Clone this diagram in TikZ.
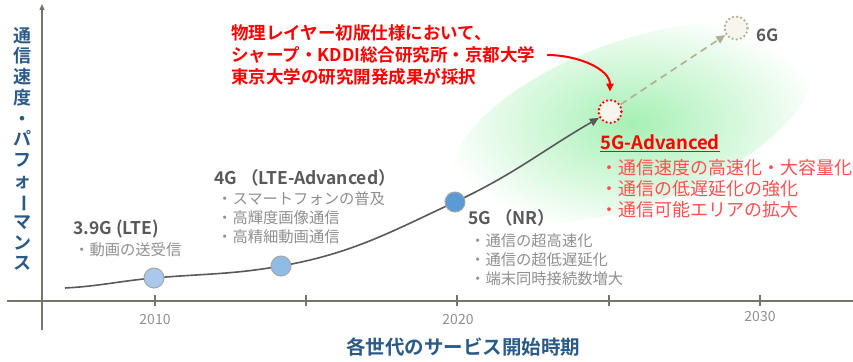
\documentclass[tikz,border=0pt]{standalone}
\usepackage{fontspec}
\setmainfont{Noto Sans CJK JP}[BoldFont={Noto Sans CJK JP Bold}]
\usetikzlibrary{arrows.meta,backgrounds}

\definecolor{axisgray}{HTML}{75756B}
\definecolor{headgray}{HTML}{595959}
\definecolor{bulletgray}{HTML}{8F8F8F}
\definecolor{titlered}{HTML}{FF0000}
\definecolor{softred}{HTML}{FF4F4F}
\definecolor{labelblue}{HTML}{2C5A86}
\definecolor{glow}{HTML}{A6F0B4}
\definecolor{lte}{HTML}{A9C8EC}
\definecolor{ltea}{HTML}{8FBCE4}
\definecolor{nr}{HTML}{5B9BD5}
\definecolor{paper}{HTML}{F8F6EC}
\definecolor{tan}{HTML}{B3AD94}

\tikzset{
  axis/.style={draw=axisgray,line width=1.3pt},
  year/.style={text=bulletgray,font=\fontsize{14}{16}\selectfont},
  gen/.style={circle,draw=gray!70,line width=1pt,minimum size=20pt,inner sep=0pt},
  future/.style={circle,fill=paper,line width=2.6pt,minimum size=23pt,inner sep=0pt,
    dash pattern=on 0pt off 4.2pt,line cap=round},
  head/.style={anchor=west,inner sep=0pt,text=headgray,font=\bfseries\fontsize{17.5}{20}\selectfont},
  bullets/.style={anchor=west,inner sep=0pt,align=left,text=bulletgray,font=\fontsize{15.3}{19}\selectfont},
  trend/.style={draw=headgray,line width=1.6pt,-{Triangle[length=9pt,width=8pt]}},
}

\begin{document}
\begin{tikzpicture}[x=1pt,y=1pt]
\useasboundingbox (0,0) rectangle (853,361);

% axes
\coordinate (ybot) at (42,31);
\coordinate (ytop) at (42,357);
\coordinate (xl) at (7,60);
\coordinate (xr) at (853,60);
\draw[axis,-{Triangle[length=6pt,width=5pt]}] (ybot) -- (ytop);
\draw[axis] (xl) -- (xr);
\foreach \x in {155,306,457,609,760}
  \draw[axis] (\x,55) -- (\x,66);

\node[year] (y2010) at (155,41) {2010};
\node[year] (y2020) at (458,41) {2020};
\node[year] (y2030) at (760,44) {2030};

\node[text=labelblue,font=\bfseries\fontsize{19.5}{22}\selectfont] (xlab) at (463,14) {各世代のサービス開始時期};
\node[text=labelblue,align=center,inner sep=0pt,font=\bfseries\fontsize{18}{20.7}\selectfont] (ylab) at (22,212)
  {通\\信\\速\\度\\・\\パ\\フ\\ォ\\\rotatebox[origin=c]{-90}{ー}\\マ\\ン\\ス};

% generations
\coordinate (start) at (65,73);
\node[gen,fill=lte] (c39) at (154,83) {};
\node[gen,fill=ltea] (c4) at (281,95) {};
\node[gen,fill=nr] (c5) at (455,159) {};
\node[future,draw=titlered] (adv) at (610,249.5) {};
\node[future,draw=tan] (six) at (736,333) {};

\begin{scope}[on background layer]
  % green glow round 5G-Advanced
  \shade[inner color=glow,outer color=white,rotate around={20:(632,238)}]
    (632,238) ellipse [x radius=190,y radius=82];
  \draw[trend] (start) to[out=3,in=185] (c39.center) to[out=5,in=190] (c4.center)
    to[out=10,in=205] (c5.center) to[out=25,in=210] (adv);
\end{scope}
\draw[draw=tan,line width=1.6pt,dashed,dash pattern=on 7pt off 5pt,
  -{Triangle[length=9pt,width=8pt]}] (adv) -- (six);

% labels
\node[head] (h39) at (73,132) {3.9G (LTE)};
\node[bullets] (b39) at (74,111) {・動画の送受信};
\node[head] (h4) at (214,183) {4G （LTE-Advanced）};
\node[bullets] (b4) at (217,143) {・スマートフォンの普及\\・高輝度画像通信\\・高精細動画通信};
\node[head] (h5) at (468,143) {5G （NR）};
\node[bullets] (b5) at (470,101) {・通信の超高速化\\・通信の超低遅延化\\・端末同時接続数増大};
\node[head,text=titlered,font=\bfseries\fontsize{18.5}{20}\selectfont] (hadv) at (600,218)
  {\underline{5G-Advanced}};
\node[bullets,text=softred,font=\fontsize{18}{21}\selectfont] (badv) at (600,172)
  {・通信速度の高速化・大容量化\\・通信の低遅延化の強化\\・通信可能エリアの拡大};
\node[head,font=\bfseries\fontsize{17}{18}\selectfont] (h6) at (756,326) {6G};

\node[anchor=west,inner sep=0pt,align=left,text=titlered,font=\bfseries\fontsize{17.5}{22}\selectfont] (note) at (231,306)
  {物理レイヤー初版仕様において、\\シャープ・KDDI総合研究所・京都大学\\東京大学の研究開発成果が採択};
\draw[titlered,line width=2pt,line cap=round,shorten >=7pt,-{Triangle[length=8pt,width=7pt]}]
  ([xshift=12pt]note.east) to[out=0,in=90] (adv.north);
\end{tikzpicture}
\end{document}
